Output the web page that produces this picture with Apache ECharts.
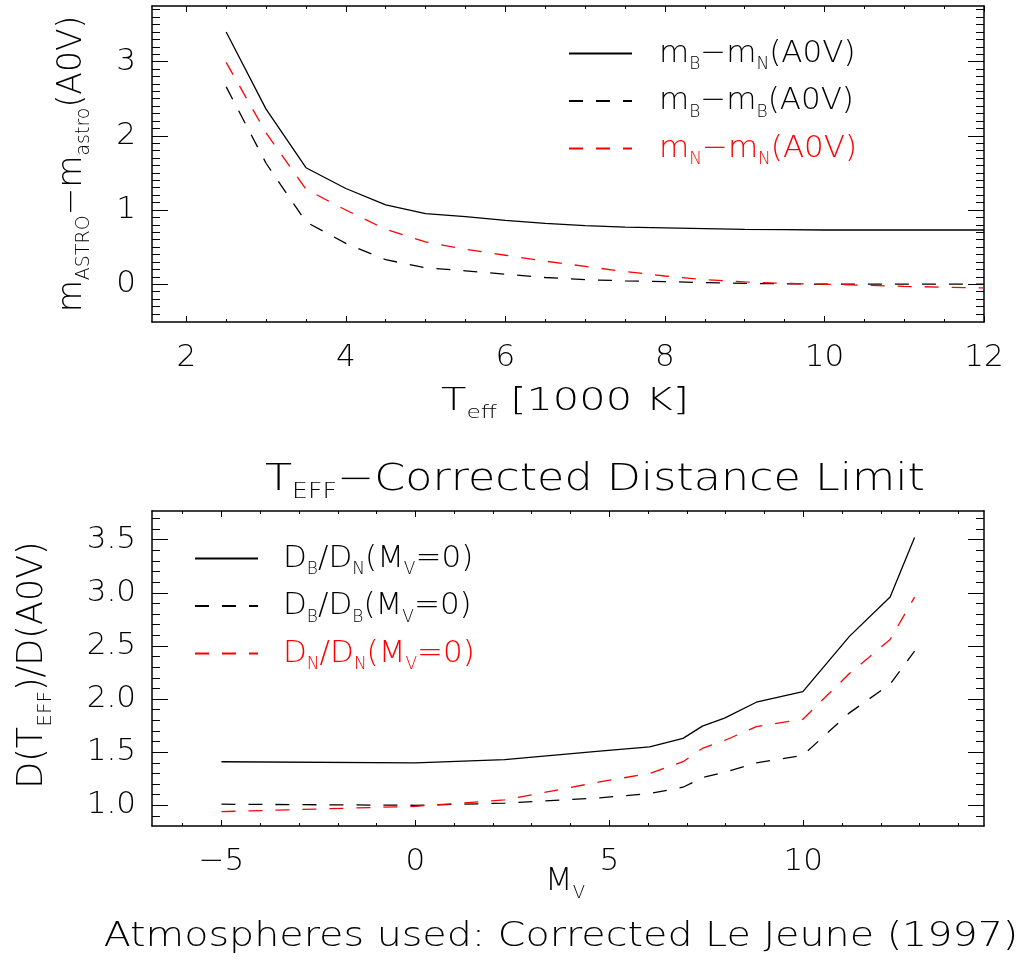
<!DOCTYPE html>
<html><head><meta charset="utf-8">
<script src="https://cdn.jsdelivr.net/npm/echarts@6/dist/echarts.min.js"></script>
<style>html,body{margin:0;padding:0;background:#fff}#c{width:1036px;height:962px}</style>
</head><body><div id="c"></div>
<script>
// ---------- data ----------
const teff = [2.5,3,3.5,4,4.5,5,5.5,6,6.5,7,7.5,8,8.5,9,9.5,10,10.5,11,11.5,12];
const mB_mN = [3.40,2.36,1.57,1.29,1.07,0.95,0.91,0.86,0.82,0.79,0.77,0.76,0.75,0.74,0.735,0.73,0.73,0.73,0.73,0.73];
const mB_mB = [2.66,1.63,0.84,0.55,0.33,0.22,0.18,0.135,0.09,0.06,0.045,0.035,0.02,0.01,0.005,0,0,0,0,0];
const mN_mN = [2.99,2.04,1.28,1.00,0.74,0.57,0.47,0.39,0.31,0.24,0.17,0.11,0.06,0.03,0.01,0.0,-0.015,-0.03,-0.04,-0.05];

const mv = [-5,0,2.3,4.75,6.04,6.9,7.4,7.97,8.79,9.99,11.19,12.24,12.87];
const dB_dN = [1.41,1.40,1.43,1.51,1.55,1.63,1.745,1.82,1.97,2.07,2.59,2.96,3.52];
const dB_dB = [1.01,1.00,1.02,1.07,1.11,1.17,1.26,1.31,1.40,1.47,1.87,2.14,2.45];
const dN_dN = [0.94,0.99,1.05,1.22,1.30,1.41,1.535,1.61,1.74,1.81,2.24,2.56,2.96];

// ---------- ticks ----------
const topXMajor = [2,4,6,8,10,12];
const topXMinor = [2.5,3,3.5,4.5,5,5.5,6.5,7,7.5,8.5,9,9.5,10.5,11,11.5];
const topYMajor = [0,1,2,3];
const topYMinor = [-0.4,-0.3,-0.2,-0.1,0.1,0.2,0.3,0.4,0.5,0.6,0.7,0.8,0.9,1.1,1.2,1.3,1.4,1.5,1.6,1.7,1.8,1.9,2.1,2.2,2.3,2.4,2.5,2.6,2.7,2.8,2.9,3.1,3.2,3.3,3.4,3.5,3.6,3.7];
const botXMajor = [-5,0,5,10];
const botXMinor = [-6,-4,-3,-2,-1,1,2,3,4,6,7,8,9,11,12,13,14];
const botYMajor = [1.0,1.5,2.0,2.5,3.0,3.5];
const botYMinor = [0.9,1.1,1.2,1.3,1.4,1.6,1.7,1.8,1.9,2.1,2.2,2.3,2.4,2.6,2.7,2.8,2.9,3.1,3.2,3.3,3.4,3.6,3.7];

const FONT = 'DejaVu Sans';
const W = 200;
const BLACK = '#000000', RED = '#ff0000';
const DASH = [14, 13];

function axes(dim, grid, min, max, major, minor, majLen, minLen, fmt) {
  const sides = dim === 'x' ? ['bottom','top'] : ['left','right'];
  const out = [];
  sides.forEach((pos, si) => {
    out.push({
      type:'value', gridIndex:grid, position:pos, min:min, max:max,
      axisLine:{show:true, onZero:false, lineStyle:{color:BLACK, width:1.5}},
      axisTick:{show:true, inside:true, length:majLen, customValues:major, lineStyle:{color:BLACK, width:1}},
      axisLabel:{show: si===0, customValues:major, margin: dim==='x'?20:16, fontSize:31, fontWeight:W, fontFamily:FONT, color:BLACK, formatter:fmt},
      splitLine:{show:false}
    });
    out.push({
      type:'value', gridIndex:grid, position:pos, min:min, max:max,
      axisLine:{show:false, onZero:false},
      axisTick:{show:true, inside:true, length:minLen, customValues:minor, lineStyle:{color:BLACK, width:1}},
      axisLabel:{show:false},
      splitLine:{show:false}
    });
  });
  return out;
}

const xAxis = [].concat(
  axes('x',0,1.57,12,topXMajor,topXMinor,6,3,v=>String(v)),
  axes('x',1,-6.79,14.66,botXMajor,botXMinor,6,3,v=>(v<0?'−'+Math.abs(v):String(v)))
);
const yAxis = [].concat(
  axes('y',0,-0.51,3.75,topYMajor,topYMinor,16,8,v=>String(v)),
  axes('y',1,0.805,3.77,botYMajor,botYMinor,16,8,v=>v.toFixed(1))
);

function zip(a,b){ return a.map((v,i)=>[v,b[i]]); }
function line(name, xs, ys, xi, yi, color, dashed) {
  return {name:name, type:'line', xAxisIndex:xi, yAxisIndex:yi, data:zip(xs,ys),
    showSymbol:false, symbol:'none', smooth:false, silent:true,
    lineStyle:{color:color, width:1.3, type: dashed?DASH:'solid'}, itemStyle:{color:color}};
}

const mainS = {fontSize:31, fontWeight:W, lineHeight:40, fontFamily:FONT, color:BLACK};
const subS = {fontSize:17, fontWeight:W, lineHeight:14, verticalAlign:'bottom', fontFamily:FONT, color:BLACK};
const rich = {
  m: mainS, s: subS,
  rm: Object.assign({}, mainS, {color:RED}), rs: Object.assign({}, subS, {color:RED})
};
const legendText = {
  'bn': '{m|m}{s|B}{m|−m}{s|N}{m|(A0V)}',
  'bb': '{m|m}{s|B}{m|−m}{s|B}{m|(A0V)}',
  'nn': '{rm|m}{rs|N}{rm|−m}{rs|N}{rm|(A0V)}',
  'DBN': '{m|D}{s|B}{m|/D}{s|N}{m|(M}{s|V}{m|=0)}',
  'DBB': '{m|D}{s|B}{m|/D}{s|B}{m|(M}{s|V}{m|=0)}',
  'DNN': '{rm|D}{rs|N}{rm|/D}{rs|N}{rm|(M}{rs|V}{rm|=0)}'
};
function legend(names, left, top, pad) {
  return {
    orient:'vertical', left:left, top:top, itemWidth:63, itemHeight:6, itemGap:12,
    padding:0, selectedMode:false,
    itemStyle:{opacity:0},
    data: names.map(n=>({name:n})),
    formatter: n => legendText[n],
    textStyle:{rich:rich, padding:[0,0,0,pad]}
  };
}

const bigS = {fontSize:32, fontWeight:W, lineHeight:40, fontFamily:FONT, fill:BLACK};
const bigSub = {fontSize:18, fontWeight:W, lineHeight:14, verticalAlign:'bottom', fontFamily:FONT, fill:BLACK};
const titleS = {fontSize:37, fontWeight:W, lineHeight:46, fontFamily:FONT, fill:BLACK};
const titleSub = {fontSize:21, fontWeight:W, lineHeight:16, verticalAlign:'bottom', fontFamily:FONT, fill:BLACK};
const yS1 = {fontSize:33, fontWeight:W, lineHeight:44, fontFamily:FONT, fill:BLACK};
const ySub1 = {fontSize:19, fontWeight:W, lineHeight:16, verticalAlign:'bottom', fontFamily:FONT, fill:BLACK};
const yS2 = {fontSize:35, fontWeight:W, lineHeight:46, fontFamily:FONT, fill:BLACK};
const ySub2 = {fontSize:20, fontWeight:W, lineHeight:17, verticalAlign:'bottom', fontFamily:FONT, fill:BLACK};

const option = {
  animation:false,
  backgroundColor:'#ffffff',
  grid:[
    {left:152, top:6, width:832, height:316, containLabel:false},
    {left:152, top:511, width:832, height:315, containLabel:false}
  ],
  xAxis: xAxis,
  yAxis: yAxis,
  legend:[ legend(['bn','bb','nn'], 568, 38, 22), legend(['DBN','DBB','DNN'], 194, 543, 20) ],
  series:[
    line('bn', teff, mB_mN, 0, 0, BLACK, false),
    line('bb', teff, mB_mB, 0, 0, BLACK, true),
    line('nn', teff, mN_mN, 0, 0, RED, true),
    line('DBN', mv, dB_dN, 4, 4, BLACK, false),
    line('DBB', mv, dB_dB, 4, 4, BLACK, true),
    line('DNN', mv, dN_dN, 4, 4, RED, true)
  ],
  graphic:[
    {type:'text', x:565, y:402, scaleX:1.3, style:{text:'{a|T}{s|eff}{a| [1000 K]}', rich:{a:bigS, s:bigSub}, align:'center', verticalAlign:'middle'}},
    {type:'text', x:595, y:480, scaleX:1.2, style:{text:'{a|T}{s|EFF}{a|−Corrected Distance Limit}', rich:{a:titleS, s:titleSub}, align:'center', verticalAlign:'middle'}},
    {type:'text', x:565, y:882, style:{text:'{a|M}{s|V}', rich:{a:bigS, s:bigSub}, align:'center', verticalAlign:'middle'}},
    {type:'text', x:561, y:937, scaleX:1.2, style:{text:'Atmospheres used: Corrected Le Jeune (1997)', fontSize:33, fontWeight:W, fontFamily:FONT, fill:BLACK, align:'center', verticalAlign:'middle'}},
    {type:'text', x:72, y:164, rotation:Math.PI/2, style:{text:'{a|m}{s|ASTRO}{a|−m}{s|astro}{a|(A0V)}', rich:{a:yS1, s:ySub1}, align:'center', verticalAlign:'middle'}},
    {type:'text', x:33, y:665, rotation:Math.PI/2, style:{text:'{a|D(T}{s|EFF}{a|)/D(A0V)}', rich:{a:yS2, s:ySub2}, align:'center', verticalAlign:'middle'}}
  ]
};
const chart = echarts.init(document.getElementById('c'), null, {renderer:'canvas'});
chart.setOption(option);
</script></body></html>
